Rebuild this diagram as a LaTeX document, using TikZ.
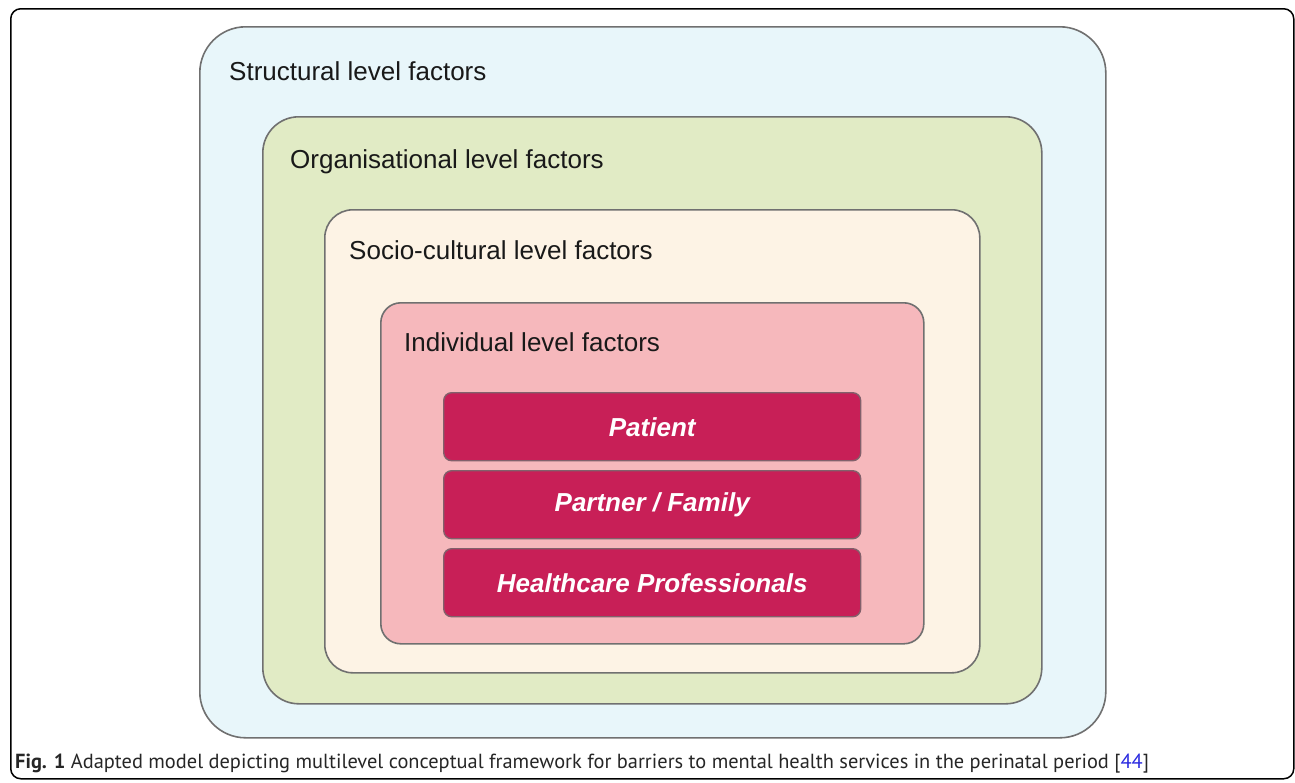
\documentclass[tikz,border=0pt]{standalone}
\usepackage{fontspec}
\setmainfont{Liberation Sans}
\newfontfamily\capfont{PT Sans}
\definecolor{cStruct}{HTML}{E8F6FA}
\definecolor{cOrg}{HTML}{E1EBC5}
\definecolor{cSocio}{HTML}{FDF3E5}
\definecolor{cIndiv}{HTML}{F6B8BC}
\definecolor{cInner}{HTML}{C81F57}
\definecolor{cEdge}{HTML}{707070}
\definecolor{cLink}{HTML}{2A2AE0}
\tikzset{
  levelbox/.style={draw=cEdge, line width=1.6pt, anchor=north west, inner sep=0pt},
  leveltext/.style={anchor=base west, inner sep=0pt, font=\fontsize{26}{30}\selectfont, text=black!90},
  itembox/.style={draw=cEdge!80!cInner, line width=1.4pt, fill=cInner, rounded corners=8pt,
     minimum width=417pt, minimum height=68pt, anchor=north west, inner sep=0pt},
  itemtext/.style={inner sep=0pt, font=\fontsize{26}{30}\selectfont\bfseries\itshape, text=white},
}
\begin{document}
\begin{tikzpicture}[x=1pt,y=-1pt]
\useasboundingbox (0,0) rectangle (1295,782);
\fill[white] (0,0) rectangle (1295,782);
\node[draw=black, line width=1.5pt, rounded corners=10pt, anchor=north west, inner sep=0pt,
      minimum width=1283pt, minimum height=770pt] (frame) at (10,8) {};
\node[levelbox, fill=cStruct, rounded corners=46pt, minimum width=906pt, minimum height=711pt] (structural) at (199,26) {};
\node[levelbox, fill=cOrg, rounded corners=36pt, minimum width=779pt, minimum height=587pt] (organisational) at (262,116) {};
\node[levelbox, fill=cSocio, rounded corners=28pt, minimum width=655pt, minimum height=463pt] (socio) at (324,209) {};
\node[levelbox, fill=cIndiv, rounded corners=20pt, minimum width=543pt, minimum height=341pt] (individual) at (380,302) {};
\node[leveltext] (tStruct) at (229,80) {Structural level factors};
\node[leveltext] (tOrg) at (290,168) {Organisational level factors};
\node[leveltext] (tSocio) at (349,259) {Socio-cultural level factors};
\node[leveltext] (tIndiv) at (404,351) {Individual level factors};
\node[itembox] (patient) at (443,392) {};
\node[itembox] (partner) at (443,470) {};
\node[itembox] (hcp) at (443,548) {};
\node[itemtext] at (patient.center) {Patient};
\node[itemtext] at (partner.center) {Partner / Family};
\node[itemtext] at (hcp.center) {Healthcare Professionals};
\node[anchor=base west, inner sep=0pt, font=\capfont\fontsize{20.4}{24}\selectfont, text=black!85] (caption) at (15,768)
  {\textbf{Fig. 1} Adapted model depicting multilevel conceptual framework for barriers to mental health services in the perinatal period [\textcolor{cLink}{44}]};
\end{tikzpicture}
\end{document}
